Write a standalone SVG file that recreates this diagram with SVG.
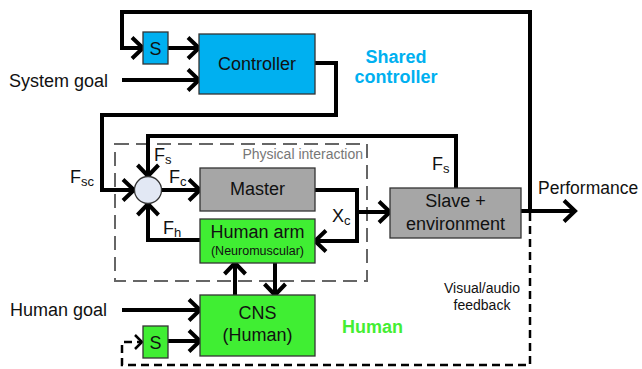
<svg xmlns="http://www.w3.org/2000/svg" width="642" height="369" viewBox="0 0 642 369">
<style>
text{font-family:"Liberation Sans",Arial,sans-serif;fill:#111}
.box{stroke:#333;stroke-width:1.3}
.blue{fill:#00b0f0}
.green{fill:#40ee33}
.gray{fill:#a6a6a6}
.c{text-anchor:middle;font-size:18px}
.w{fill:none;stroke:#000;stroke-width:4;stroke-linejoin:miter}
.arr{marker-end:url(#ah)}
.sub{font-size:13px}
</style>
<defs>
<marker id="ah" markerUnits="userSpaceOnUse" viewBox="0 0 14 24" refX="12" refY="12" markerWidth="14" markerHeight="24" orient="auto" overflow="visible">
<path d="M1,1.5 L12,12 L1,22.5" fill="none" stroke="#000" stroke-width="4"/>
</marker>
<marker id="ahd" markerUnits="userSpaceOnUse" viewBox="0 0 10 16" refX="8" refY="8" markerWidth="10" markerHeight="16" orient="auto" overflow="visible">
<path d="M1,1 L8,8 L1,15" fill="none" stroke="#000" stroke-width="2.5"/>
</marker>
</defs>

<g id="physical-interaction">
<rect x="115" y="144" width="252" height="137" fill="none" stroke="#666" stroke-width="2" stroke-dasharray="14 7"/>
<text x="363" y="159" font-size="14" text-anchor="end" style="fill:#777">Physical interaction</text>
</g>

<g id="connectors">
<!-- top loop to S -->
<polyline class="w arr" points="530,211 530,12 122,12 122,48 143,48"/>
<line class="w arr" x1="168" y1="48" x2="199" y2="48"/>
<line class="w arr" x1="122" y1="80" x2="199" y2="80"/>
<!-- controller output Fsc -->
<polyline class="w arr" points="315,63 336,63 336,115 102,115 102,190 134,190"/>
<!-- Fs -->
<polyline class="w arr" points="456,188 456,136 148,136 148,176"/>
<!-- Fh -->
<polyline class="w arr" points="200,240 148,240 148,204"/>
<!-- Fc -->
<line class="w arr" x1="162" y1="190" x2="200" y2="190"/>
<!-- Master out Xc -->
<polyline class="w arr" points="315,190 357,190 357,241 315,241"/>
<line class="w arr" x1="357" y1="212" x2="390" y2="212"/>
<!-- performance -->
<line class="w arr" x1="521" y1="211" x2="575" y2="211"/>
<!-- arm / CNS -->
<line class="w arr" x1="235" y1="295" x2="235" y2="263"/>
<line class="w arr" x1="275" y1="263" x2="275" y2="295"/>
<line class="w arr" x1="122" y1="310" x2="200" y2="310"/>
<line class="w arr" x1="168" y1="341" x2="200" y2="341"/>
<!-- visual/audio feedback dashed -->
<polyline points="530,213 530,365 122,365 122,342 142,342" fill="none" stroke="#000" stroke-width="2.5" stroke-dasharray="8 5" marker-end="url(#ahd)"/>
</g>

<g id="s-top">
<rect class="box blue" x="143" y="32" width="25" height="32"/>
<text class="c" x="155.5" y="55">S</text>
</g>
<g id="controller">
<rect class="box blue" x="199" y="34" width="116" height="60"/>
<text class="c" x="257" y="70">Controller</text>
</g>
<g id="system-goal"><text x="9" y="87" font-size="18">System goal</text></g>
<g id="shared-label">
<text x="396" y="63" font-size="18" font-weight="bold" text-anchor="middle" style="fill:#00b0f0">Shared</text>
<text x="396" y="83" font-size="18" font-weight="bold" text-anchor="middle" style="fill:#00b0f0">controller</text>
</g>

<g id="sum">
<circle cx="148" cy="190" r="13.5" fill="#e2e8f4" stroke="#333" stroke-width="1.3"/>
</g>
<g id="labels">
<text x="70" y="183" font-size="18">F<tspan class="sub" dy="3">sc</tspan></text>
<text x="154" y="161" font-size="18">F<tspan class="sub" dy="3">s</tspan></text>
<text x="169" y="183" font-size="18">F<tspan class="sub" dy="3">c</tspan></text>
<text x="163" y="234" font-size="18">F<tspan class="sub" dy="3">h</tspan></text>
<text x="332" y="222" font-size="18">X<tspan class="sub" dy="3">c</tspan></text>
<text x="432" y="170" font-size="18">F<tspan class="sub" dy="3">s</tspan></text>
</g>

<g id="master">
<rect class="box gray" x="200" y="168" width="115" height="43"/>
<text class="c" x="257.5" y="195">Master</text>
</g>
<g id="human-arm">
<rect class="box green" x="200" y="219" width="115" height="44"/>
<text class="c" x="257.5" y="238">Human arm</text>
<text x="257.5" y="255" font-size="12.5" text-anchor="middle">(Neuromuscular)</text>
</g>
<g id="slave">
<rect class="box gray" x="390" y="188" width="131" height="50"/>
<text class="c" x="455.5" y="207">Slave +</text>
<text class="c" x="455.5" y="230">environment</text>
</g>
<g id="performance"><text x="538" y="194" font-size="17.5">Performance</text></g>

<g id="cns">
<rect class="box green" x="200" y="295" width="115" height="61"/>
<text class="c" x="257.5" y="319">CNS</text>
<text class="c" x="257.5" y="341">(Human)</text>
</g>
<g id="s-bottom">
<rect class="box green" x="143" y="326" width="25" height="32"/>
<text class="c" x="155.5" y="349">S</text>
</g>
<g id="human-goal"><text x="10" y="316" font-size="18">Human goal</text></g>
<g id="human-label"><text x="342" y="333" font-size="18" font-weight="bold" style="fill:#44ee33">Human</text></g>
<g id="feedback-label">
<text x="482" y="293" font-size="14" text-anchor="middle">Visual/audio</text>
<text x="482" y="310" font-size="14" text-anchor="middle">feedback</text>
</g>
</svg>
